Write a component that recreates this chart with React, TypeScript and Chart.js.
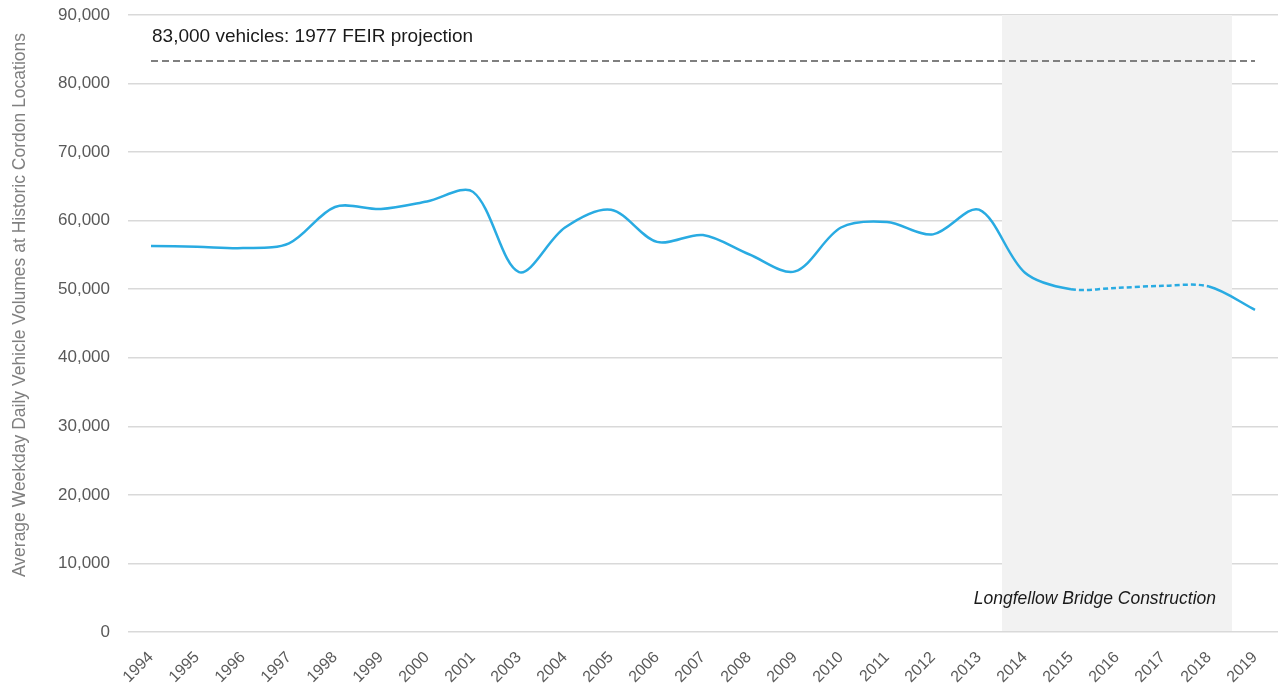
import React, { useEffect, useRef } from "react";
import { Chart, registerables } from "chart.js";

Chart.register(...registerables);

const years = ["1994","1995","1996","1997","1998","1999","2000","2001","2003","2004","2005","2006","2007","2008","2009","2010","2011","2012","2013","2014","2015","2016","2017","2018","2019"];
const volumes = [56300,56200,56000,56700,62000,61700,62800,64200,52500,59000,61600,56900,57900,55100,52600,59000,59800,58000,61600,52400,50000,50200,50500,50400,47000];
const projection = 83300;
const projectionLabel = "83,000 vehicles: 1977 FEIR projection";
const constructionStart = "2014";
const constructionEnd = "2018";
const constructionLabel = "Longfellow Bridge Construction";
const dashedFrom = "2015";
const dashedTo = "2018";
const yTitle = "Average Weekday Daily Vehicle Volumes at Historic Cordon Locations";

const FONT = "'Liberation Sans', Arial, sans-serif";

export default function App() {
  const ref = useRef<HTMLCanvasElement | null>(null);
  useEffect(() => {
    if (!ref.current) return;
    const dStart = years.indexOf(dashedFrom);
    const dEnd = years.indexOf(dashedTo);
    const shadePlugin = {
      id: "shade",
      beforeDatasetsDraw(chart: any) {
        const { ctx, chartArea, scales } = chart;
        const x = scales.x;
        const i0 = years.indexOf(constructionStart);
        const i1 = years.indexOf(constructionEnd);
        const left = (x.getPixelForValue(i0 - 1) + x.getPixelForValue(i0)) / 2;
        const right = (x.getPixelForValue(i1) + x.getPixelForValue(i1 + 1)) / 2;
        ctx.save();
        ctx.fillStyle = "#f2f2f2";
        ctx.fillRect(left, chartArea.top, right - left, chartArea.bottom - chartArea.top - 1);
        ctx.restore();
      },
      afterDatasetsDraw(chart: any) {
        const { ctx, chartArea, scales } = chart;
        const x = scales.x;
        const y = scales.y;
        ctx.save();
        ctx.fillStyle = "#1a1a1a";
        ctx.font = `19px ${FONT}`;
        ctx.textBaseline = "middle";
        ctx.textAlign = "left";
        ctx.fillText(projectionLabel, x.getPixelForValue(0) + 1, y.getPixelForValue(projection) - 24.5);
        ctx.font = `italic 17.5px ${FONT}`;
        ctx.textAlign = "right";
        const i1 = years.indexOf(constructionEnd);
        const right = (x.getPixelForValue(i1) + x.getPixelForValue(i1 + 1)) / 2;
        ctx.fillText(constructionLabel, right - 16, chartArea.bottom - 33);
        // y axis title
        ctx.translate(20, 305);
        ctx.rotate(-Math.PI / 2);
        ctx.fillStyle = "#808080";
        ctx.font = `17.5px ${FONT}`;
        ctx.textAlign = "center";
        ctx.fillText(yTitle, 0, 0);
        ctx.restore();
      },
    };
    const chart = new Chart(ref.current, {
      type: "line",
      data: {
        labels: years,
        datasets: [
          {
            data: years.map(() => projection),
            borderColor: "#7f7f7f",
            borderWidth: 2,
            borderDash: [7, 4],
            pointRadius: 0,
            tension: 0,
          },
          {
            data: volumes,
            borderColor: "#29abe2",
            borderWidth: 2.5,
            pointRadius: 0,
            tension: 0.32,
            segment: {
              borderDash: (c: any) => (c.p0DataIndex >= dStart && c.p1DataIndex <= dEnd ? [5, 3] : undefined),
            },
          },
        ],
      },
      options: {
        animation: false,
        responsive: false,
        maintainAspectRatio: false,
        layout: { padding: { left: 0, right: 0, top: 15, bottom: 0 } },
        plugins: { legend: { display: false }, tooltip: { enabled: false } },
        scales: {
          x: {
            offset: true,
            grid: { display: false },
            border: { display: false },
            ticks: { color: "#595959", font: { family: FONT, size: 16 }, maxRotation: 45, minRotation: 45, padding: 8 },
            afterFit: (s: any) => { s.height = 54; },
          },
          y: {
            min: 0,
            max: 90000,
            border: { display: false },
            grid: { color: "#d9d9d9", lineWidth: 1.5, drawTicks: false },
            ticks: {
              stepSize: 10000,
              color: "#595959",
              padding: 18,
              font: { family: FONT, size: 17 },
              callback: (v: any) => Number(v).toLocaleString("en-US"),
            },
            afterFit: (s: any) => { s.width = 128; s.paddingTop = 0; s.paddingBottom = 0; },
          },
        },
      },
      plugins: [shadePlugin],
    });
    return () => chart.destroy();
  }, []);
  return (
    <div style={{ position: "fixed", left: 0, top: 0, width: 1278, height: 686, background: "#fff" }}>
      <canvas ref={ref} width={1278} height={686} />
    </div>
  );
}
